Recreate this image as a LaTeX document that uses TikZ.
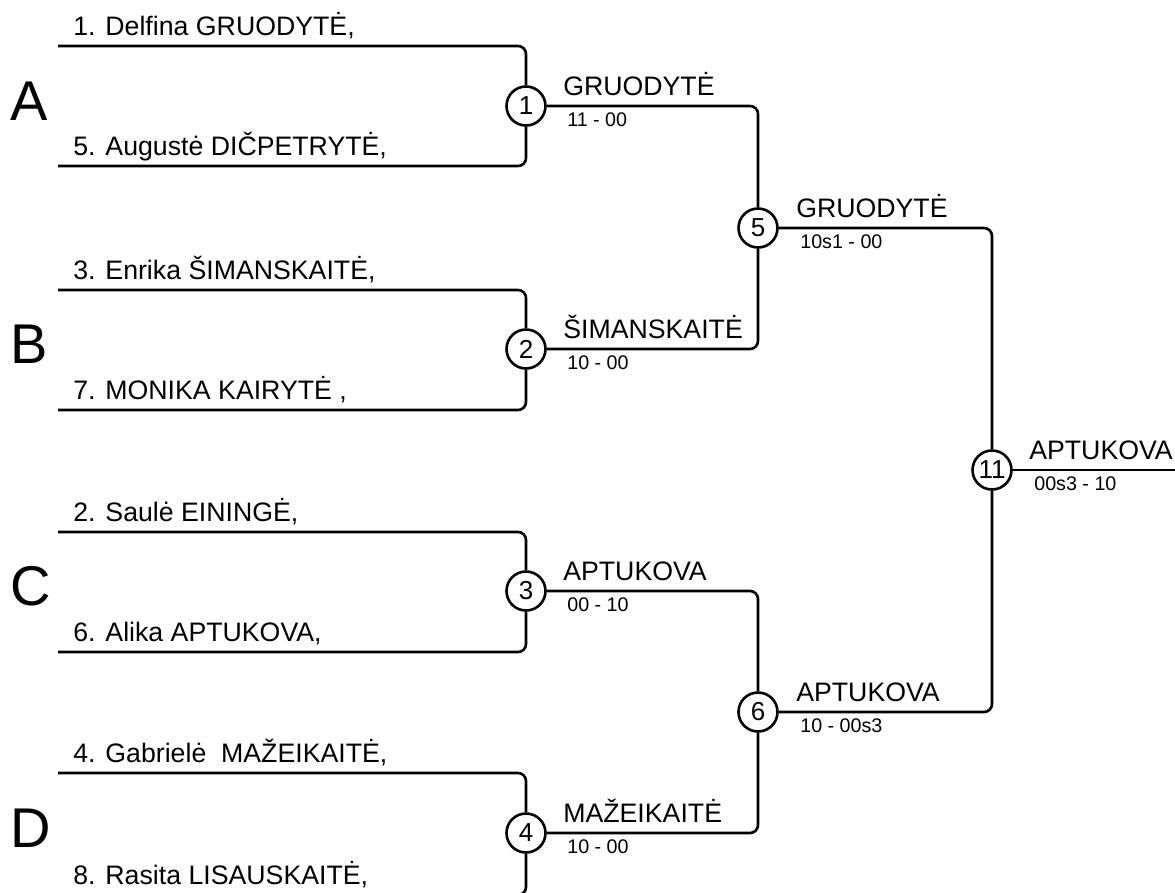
\documentclass[tikz,border=0pt]{standalone}
\usepackage{fontspec}
\setmainfont{Liberation Sans}
\begin{document}
\begin{tikzpicture}[x=1pt,y=-1pt,line width=2.6pt,
  rnd/.style={circle,draw,minimum size=39pt,inner sep=0pt,fill=white,font=\fontsize{26}{26}\selectfont},
  wire/.style={rounded corners=8pt},
  pname/.style={anchor=base west,inner sep=0pt,font=\fontsize{26.7}{27}\selectfont},
  score/.style={anchor=base west,inner sep=0pt,font=\fontsize{19.7}{20}\selectfont},
  grp/.style={anchor=base west,inner sep=0pt,font=\fontsize{56}{56}\selectfont}]
\useasboundingbox (0,0) rectangle (1175,892);
\clip (0,0) rectangle (1175,892);
% match nodes
\node[rnd] (m1) at (526,106) {1};
\node[rnd] (m2) at (526,349) {2};
\node[rnd] (m3) at (526,591) {3};
\node[rnd] (m4) at (526,833) {4};
\node[rnd] (m5) at (758,228) {5};
\node[rnd] (m6) at (758,712) {6};
\node[rnd] (m11) at (992,470) {11};
% player line starts
\coordinate (p1) at (58,46);
\coordinate (p5) at (58,166);
\coordinate (p3) at (58,290);
\coordinate (p7) at (58,410);
\coordinate (p2) at (58,532);
\coordinate (p6) at (58,652);
\coordinate (p4) at (58,773);
\coordinate (p8) at (58,895);
\coordinate (fin) at (1175,470);
% group letters
\node[grp] (gA) at (9,120) {A};
\node[grp] (gB) at (9,363) {B};
\node[grp] (gC) at (9,605) {C};
\node[grp] (gD) at (9,847) {D};
% player names
\node[pname] (n1) at ([xshift=14pt,yshift=11pt]p1) {1. Delfina GRUODYTĖ,};
\node[pname] (n5) at ([xshift=14pt,yshift=11pt]p5) {5. Augustė DIČPETRYTĖ,};
\node[pname] (n3) at ([xshift=14pt,yshift=11pt]p3) {3. Enrika ŠIMANSKAITĖ,};
\node[pname] (n7) at ([xshift=14pt,yshift=11pt]p7) {7. MONIKA KAIRYTĖ ,};
\node[pname] (n2) at ([xshift=14pt,yshift=11pt]p2) {2. Saulė EININGĖ,};
\node[pname] (n6) at ([xshift=14pt,yshift=11pt]p6) {6. Alika APTUKOVA,};
\node[pname] (n4) at ([xshift=14pt,yshift=11pt]p4) {4. Gabrielė\ \ MAŽEIKAITĖ,};
\node[pname] (n8) at ([xshift=14pt,yshift=11pt]p8) {8. Rasita LISAUSKAITĖ,};
% round 1 wires
\draw[wire] (p1) -- (p1 -| m1) -- (m1.north);
\draw[wire] (p5) -- (p5 -| m1) -- (m1.south);
\draw[wire] (p3) -- (p3 -| m2) -- (m2.north);
\draw[wire] (p7) -- (p7 -| m2) -- (m2.south);
\draw[wire] (p2) -- (p2 -| m3) -- (m3.north);
\draw[wire] (p6) -- (p6 -| m3) -- (m3.south);
\draw[wire] (p4) -- (p4 -| m4) -- (m4.north);
\draw[wire] (p8) -- (p8 -| m4) -- (m4.south);
% round 2 wires
\draw[wire] (m1.east) -- (m1 -| m5) -- (m5.north);
\draw[wire] (m2.east) -- (m2 -| m5) -- (m5.south);
\draw[wire] (m3.east) -- (m3 -| m6) -- (m6.north);
\draw[wire] (m4.east) -- (m4 -| m6) -- (m6.south);
% final wires
\draw[wire] (m5.east) -- (m5 -| m11) -- (m11.north);
\draw[wire] (m6.east) -- (m6 -| m11) -- (m11.south);
\draw (m11.east) -- (fin);
% winners and scores
\node[pname] (w1) at ([xshift=36pt,yshift=11pt]m1.center) {GRUODYTĖ};
\node[score] (s1) at ([xshift=40pt,yshift=-20pt]m1.center) {11 - 00};
\node[pname] (w2) at ([xshift=36pt,yshift=11pt]m2.center) {ŠIMANSKAITĖ};
\node[score] (s2) at ([xshift=40pt,yshift=-20pt]m2.center) {10 - 00};
\node[pname] (w3) at ([xshift=36pt,yshift=11pt]m3.center) {APTUKOVA};
\node[score] (s3) at ([xshift=40pt,yshift=-20pt]m3.center) {00 - 10};
\node[pname] (w4) at ([xshift=36pt,yshift=11pt]m4.center) {MAŽEIKAITĖ};
\node[score] (s4) at ([xshift=40pt,yshift=-20pt]m4.center) {10 - 00};
\node[pname] (w5) at ([xshift=37pt,yshift=11pt]m5.center) {GRUODYTĖ};
\node[score] (s5) at ([xshift=41pt,yshift=-20pt]m5.center) {10s1 - 00};
\node[pname] (w6) at ([xshift=37pt,yshift=11pt]m6.center) {APTUKOVA};
\node[score] (s6) at ([xshift=41pt,yshift=-20pt]m6.center) {10 - 00s3};
\node[pname] (w11) at ([xshift=36pt,yshift=11pt]m11.center) {APTUKOVA};
\node[score] (s11) at ([xshift=41pt,yshift=-20pt]m11.center) {00s3 - 10};
\end{tikzpicture}
\end{document}
